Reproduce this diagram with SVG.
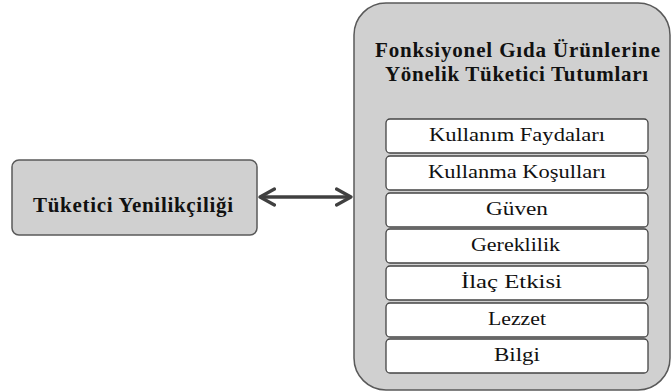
<svg xmlns="http://www.w3.org/2000/svg" width="672" height="392" viewBox="0 0 672 392" font-family="Liberation Serif, Times New Roman, serif">
<style>
.outer{fill:#d0d0d0;stroke:#595959;stroke-width:1.5}
.item{fill:#fff;stroke:#444;stroke-width:1.3}
.conn{stroke:#404040;stroke-width:3.5;fill:none}
</style>
<defs>
<marker id="ah" viewBox="0 0 12 12" refX="10" refY="6" markerWidth="5.5" markerHeight="5.5" orient="auto-start-reverse" markerUnits="strokeWidth">
<path d="M1,1 L10,6 L1,11" fill="none" stroke="#404040" stroke-width="2" stroke-linecap="round" stroke-linejoin="round"/>
</marker>
</defs>
<rect width="672" height="392" fill="#fff"/>
<g id="node-tuketici">
<rect class="outer" x="12" y="160" width="245" height="75" rx="7"/>
<text font-family="Liberation Serif" font-size="21" font-weight="bold" fill="#111" x="33" y="212" textLength="200" lengthAdjust="spacing">Tüketici Yenilikçiliği</text>
</g>
<g id="node-tutumlar">
<rect class="outer" x="354" y="3" width="316" height="387" rx="32"/>
<text font-family="Liberation Serif" font-size="21" font-weight="bold" fill="#111" x="375" y="57" textLength="285" lengthAdjust="spacing">Fonksiyonel Gıda Ürünlerine</text>
<text font-family="Liberation Serif" font-size="21" font-weight="bold" fill="#111" x="385" y="81" textLength="263" lengthAdjust="spacing">Yönelik Tüketici Tutumları</text>
</g>
<g id="item-1"><rect class="item" x="386" y="119" width="262" height="34" rx="4"/><text font-family="Liberation Serif" font-size="19.5" fill="#111" x="429" y="141" textLength="176" lengthAdjust="spacingAndGlyphs">Kullanım Faydaları</text></g>
<g id="item-2"><rect class="item" x="386" y="156" width="262" height="34" rx="4"/><text font-family="Liberation Serif" font-size="19.5" fill="#111" x="428" y="178" textLength="178" lengthAdjust="spacingAndGlyphs">Kullanma Koşulları</text></g>
<g id="item-3"><rect class="item" x="386" y="193" width="262" height="34" rx="4"/><text font-family="Liberation Serif" font-size="19.5" fill="#111" x="486" y="215" textLength="62" lengthAdjust="spacingAndGlyphs">Güven</text></g>
<g id="item-4"><rect class="item" x="386" y="229" width="262" height="34" rx="4"/><text font-family="Liberation Serif" font-size="19.5" fill="#111" x="471" y="251" textLength="89" lengthAdjust="spacingAndGlyphs">Gereklilik</text></g>
<g id="item-5"><rect class="item" x="386" y="266" width="262" height="34" rx="4"/><text font-family="Liberation Serif" font-size="19.5" fill="#111" x="461" y="288" textLength="101" lengthAdjust="spacingAndGlyphs">İlaç Etkisi</text></g>
<g id="item-6"><rect class="item" x="386" y="303" width="262" height="34" rx="4"/><text font-family="Liberation Serif" font-size="19.5" fill="#111" x="488" y="325" textLength="58" lengthAdjust="spacingAndGlyphs">Lezzet</text></g>
<g id="item-7"><rect class="item" x="386" y="339" width="262" height="34" rx="4"/><text font-family="Liberation Serif" font-size="19.5" fill="#111" x="494" y="361" textLength="46" lengthAdjust="spacingAndGlyphs">Bilgi</text></g>
<g id="connectors">
<line class="conn" x1="260" y1="197" x2="351" y2="197" marker-start="url(#ah)" marker-end="url(#ah)"/>
</g>
</svg>
